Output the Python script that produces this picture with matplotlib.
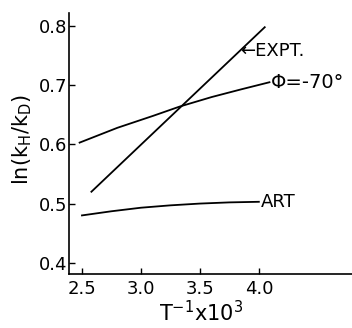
import numpy as np
import matplotlib.pyplot as plt

# data
expt_x = [2.58, 4.05]
expt_y = [0.52, 0.798]

phi_x = [2.48, 2.8, 3.1, 3.33, 3.6, 3.85, 4.09]
phi_y = [0.603, 0.628, 0.648, 0.664, 0.680, 0.693, 0.705]

art_x = [2.5, 2.75, 3.0, 3.25, 3.5, 3.75, 4.0]
art_y = [0.480, 0.487, 0.493, 0.497, 0.500, 0.502, 0.503]

xticks = [2.5, 3.0, 3.5, 4.0]
yticks = [0.4, 0.5, 0.6, 0.7, 0.8]

fig = plt.figure(figsize=(3.52, 3.28), dpi=100)
# axes box in pixels: left 69, right 352, top 13, bottom 274
ax = fig.add_axes([69/352, 1-274/328, (352-69)/352, (274-13)/328])

ax.plot(expt_x, expt_y, color='black', lw=1.3)
ax.plot(phi_x, phi_y, color='black', lw=1.3)
ax.plot(art_x, art_y, color='black', lw=1.3)

ax.set_xlim(2.39, 4.79)
ax.set_ylim(0.381, 0.822)
ax.set_xticks(xticks)
ax.set_xticklabels(['2.5', '3.0', '3.5', '4.0'])
ax.set_yticks(yticks)
ax.set_yticklabels(['0.4', '0.5', '0.6', '0.7', '0.8'])
ax.tick_params(direction='in', length=4, width=1, labelsize=13, pad=1)
ax.tick_params(axis='x', pad=4)
ax.spines['top'].set_visible(False)
ax.spines['right'].set_visible(False)
ax.spines['left'].set_linewidth(1.2)
ax.spines['bottom'].set_linewidth(1.2)

ax.text(3.84, 0.757, '\u2190EXPT.', fontsize=13, va='center', ha='left')
ax.text(4.1, 0.705, '\u03a6=-70\u00b0', fontsize=14, va='center', ha='left')
ax.text(4.02, 0.503, 'ART', fontsize=13, va='center', ha='left')

fig.text(22/352, 1-140/328, r'ln(k$_\mathrm{H}$/k$_\mathrm{D}$)', rotation=90,
         fontsize=15, ha='center', va='center')
fig.text(201/352, 1-313/328, r'T$^{-1}$x10$^3$', fontsize=15,
         ha='center', va='center')

fig.savefig('out.png', dpi=100)
